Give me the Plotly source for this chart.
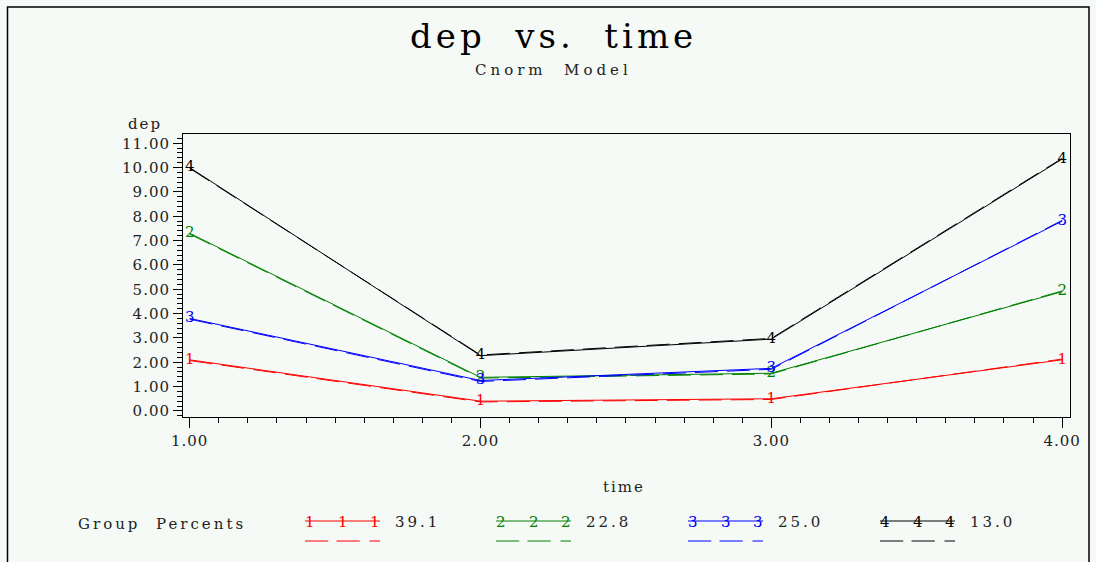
import plotly.graph_objects as go

# ---------------- data ----------------
time = [1, 2, 3, 4]
group_labels = ["1", "2", "3", "4"]
group_colors = ["#FF0000", "#008000", "#0000FF", "#000000"]
group_percents = ["39.1", "22.8", "25.0", "13.0"]

obs_g1 = [2.10, 0.40, 0.50, 2.10]
obs_g2 = [7.30, 1.38, 1.55, 4.90]
obs_g3 = [3.80, 1.25, 1.75, 7.80]
obs_g4 = [10.00, 2.27, 2.95, 10.35]

pred_g1 = [2.07, 0.37, 0.47, 2.13]
pred_g2 = [7.27, 1.35, 1.52, 4.93]
pred_g3 = [3.77, 1.21, 1.71, 7.83]
pred_g4 = [9.97, 2.30, 2.98, 10.38]

y_tick_vals = [0, 1, 2, 3, 4, 5, 6, 7, 8, 9, 10, 11]
x_tick_vals = [1, 2, 3, 4]

observed = [obs_g1, obs_g2, obs_g3, obs_g4]
predicted = [pred_g1, pred_g2, pred_g3, pred_g4]

# ---------------- layout helpers ----------------
W, H = 1096, 562
L, R, T, B = 183, 1070, 134, 417
FONT = "DejaVu Serif"
BG = "#F5FAF7"


def px(x):
    return (x - L) / (R - L)


def py(y):
    return (B - y) / (B - T)


def spaced(s, ls):
    return f'<span style="letter-spacing:{ls}px">{s}</span>'


fig = go.Figure()

for g in range(4):
    fig.add_trace(go.Scatter(
        x=time, y=predicted[g], mode="lines",
        line=dict(color=group_colors[g], width=1, dash="23px,9px"),
        showlegend=False, hoverinfo="skip"))
    fig.add_trace(go.Scatter(
        x=time, y=observed[g], mode="lines+text",
        text=[group_labels[g]] * len(time), textposition="middle center",
        textfont=dict(family=FONT, size=15, color=group_colors[g]),
        line=dict(color=group_colors[g], width=1),
        showlegend=False))

axis_common = dict(
    showline=True, linecolor="black", linewidth=1, mirror=True,
    showgrid=False, zeroline=False, ticks="outside", tickcolor="black",
    tickwidth=1, tickfont=dict(family=FONT, size=15, color="#222"),
)

fig.update_xaxes(
    range=[0.977, 4.027], tickvals=x_tick_vals,
    ticktext=[spaced(f"{v:.2f}", 1) for v in x_tick_vals],
    ticklen=10,
    minor=dict(dtick=0.1, tick0=1, ticks="outside", ticklen=5, tickcolor="black", tickwidth=1),
    **axis_common)
fig.update_yaxes(
    range=[-0.25, 11.38], tickvals=y_tick_vals,
    ticktext=[spaced(f"{v:.2f}", 1) for v in y_tick_vals],
    ticklen=9,
    minor=dict(dtick=0.2, tick0=0, ticks="outside", ticklen=5, tickcolor="black", tickwidth=1),
    **axis_common)

annotations = [
    dict(x=px(553), y=py(36), text=spaced("dep&nbsp;&nbsp;vs.&nbsp;&nbsp;time", 4),
         font=dict(family=FONT, size=34, color="black")),
    dict(x=px(553), y=py(70), text=spaced("Cnorm&nbsp;&nbsp;Model", 4),
         font=dict(family=FONT, size=15, color="#222")),
    dict(x=px(145), y=py(124), text=spaced("dep", 2),
         font=dict(family=FONT, size=15, color="#222")),
    dict(x=px(624), y=py(487), text=spaced("time", 2),
         font=dict(family=FONT, size=15, color="#222")),
    dict(x=px(162), y=py(524), text=spaced("Group&nbsp;&nbsp;Percents", 3),
         font=dict(family=FONT, size=15, color="#222")),
]

shapes = [
    dict(type="rect", xref="paper", yref="paper",
         x0=px(7.5), x1=px(1089), y0=py(575), y1=py(7),
         line=dict(color="black", width=1.5), fillcolor="rgba(0,0,0,0)", layer="below"),
]

line_starts = [305, 496, 688, 880]
line_len = 75
solid_y, dash_y = 521, 541
for g in range(4):
    x0 = line_starts[g]
    shapes.append(dict(type="line", xref="paper", yref="paper",
                       x0=px(x0), x1=px(x0 + line_len), y0=py(solid_y), y1=py(solid_y),
                       line=dict(color=group_colors[g], width=1)))
    for a, b in [(0, 0.31), (0.42, 0.73), (0.86, 1.0)]:
        shapes.append(dict(type="line", xref="paper", yref="paper",
                           x0=px(x0 + a * line_len), x1=px(x0 + b * line_len),
                           y0=py(dash_y), y1=py(dash_y),
                           line=dict(color=group_colors[g], width=1)))
    for f in [0.07, 0.5, 0.93]:
        annotations.append(dict(x=px(x0 + f * line_len), y=py(solid_y + 1),
                                text=group_labels[g],
                                font=dict(family=FONT, size=15, color=group_colors[g])))
    annotations.append(dict(x=px(x0 + line_len + 13), y=py(522), xanchor="left",
                            text=spaced(group_percents[g], 3),
                            font=dict(family=FONT, size=15, color="#222")))

for a in annotations:
    a.setdefault("xref", "paper")
    a.setdefault("yref", "paper")
    a.setdefault("showarrow", False)
    a.setdefault("xanchor", "center")
    a.setdefault("yanchor", "middle")

fig.update_layout(
    width=W, height=H,
    margin=dict(l=L, r=W - R, t=T, b=H - B),
    paper_bgcolor=BG, plot_bgcolor=BG,
    annotations=annotations, shapes=shapes,
    showlegend=False,
)

fig.write_html(
    "out.html",
    config={"displayModeBar": False},
    post_script="document.body.style.margin='0';document.body.style.background='" + BG + "';",
)
